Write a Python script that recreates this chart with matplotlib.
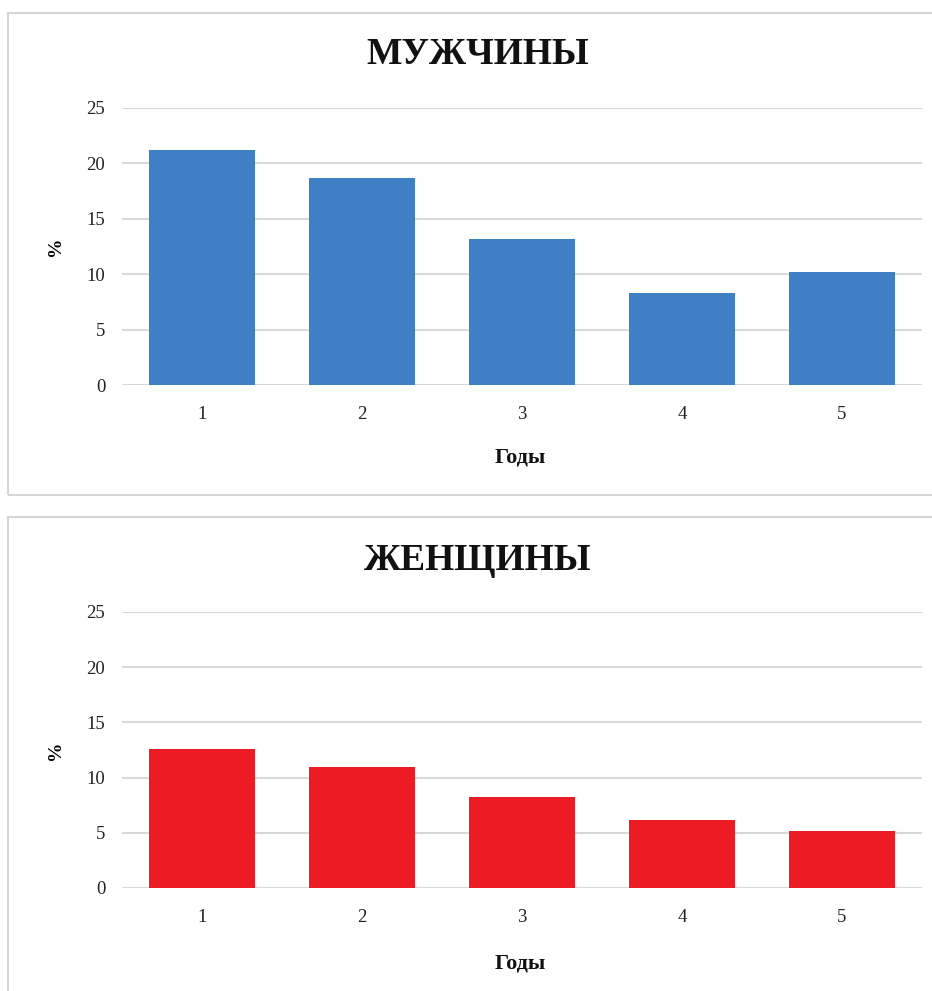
import matplotlib.pyplot as plt
from matplotlib.patches import Rectangle

years = ["1", "2", "3", "4", "5"]
men = [21.2, 18.7, 13.2, 8.3, 10.2]
women = [12.6, 11.0, 8.2, 6.2, 5.2]
titles = ["МУЖЧИНЫ", "ЖЕНЩИНЫ"]
yticks = [0, 5, 10, 15, 20, 25]

plt.rcParams['font.family'] = ['Liberation Serif', 'DejaVu Serif']

W, H = 932, 991
fig = plt.figure(figsize=(W / 100, H / 100), dpi=100)
fig.patch.set_facecolor('white')

def fx(px):
    return px / W

def fy(py):
    return 1 - py / H

# panel frames
for top, bottom in [(13, 495), (517, 995)]:
    fig.add_artist(Rectangle((fx(8), fy(bottom)), fx(940 - 8), (bottom - top) / H,
                             transform=fig.transFigure, fill=False,
                             edgecolor='#d6d6d6', linewidth=1.5))

panels = [
    dict(values=men, color='#3f7fc4', title=titles[0], ax_top=108, ax_bot=385,
         title_y=55, xlabel_y=457),
    dict(values=women, color='#ed1c24', title=titles[1], ax_top=612, ax_bot=888,
         title_y=560, xlabel_y=963),
]

for p in panels:
    ax = fig.add_axes([fx(122), fy(p['ax_bot']), fx(922 - 122),
                       (p['ax_bot'] - p['ax_top']) / H])
    x = list(range(len(years)))
    ax.bar(x, p['values'], width=0.66, color=p['color'], zorder=3)
    ax.set_xlim(-0.5, len(years) - 0.5)
    ax.set_ylim(0, 25)
    ax.set_yticks(yticks)
    ax.set_xticks(x)
    ax.set_xticklabels(years)
    ax.yaxis.grid(True, color='#d9d9d9', linewidth=1.5, zorder=0)
    for s in ax.spines.values():
        s.set_visible(False)
    ax.tick_params(axis='both', length=0, labelsize=13.5, colors='#222222')
    ax.tick_params(axis='y', pad=12)
    ax.tick_params(axis='x', pad=15)
    ax.set_ylabel('%', fontsize=14, fontweight='bold', labelpad=16)
    fig.text(fx(478), fy(p['title_y']), p['title'], ha='center', va='center',
             fontsize=27, fontweight='bold', color='#111111')
    fig.text(fx(520), fy(p['xlabel_y']), 'Годы', ha='center', va='center',
             fontsize=16, fontweight='bold', color='#111111')

fig.savefig('out.png', dpi=100, facecolor='white')
